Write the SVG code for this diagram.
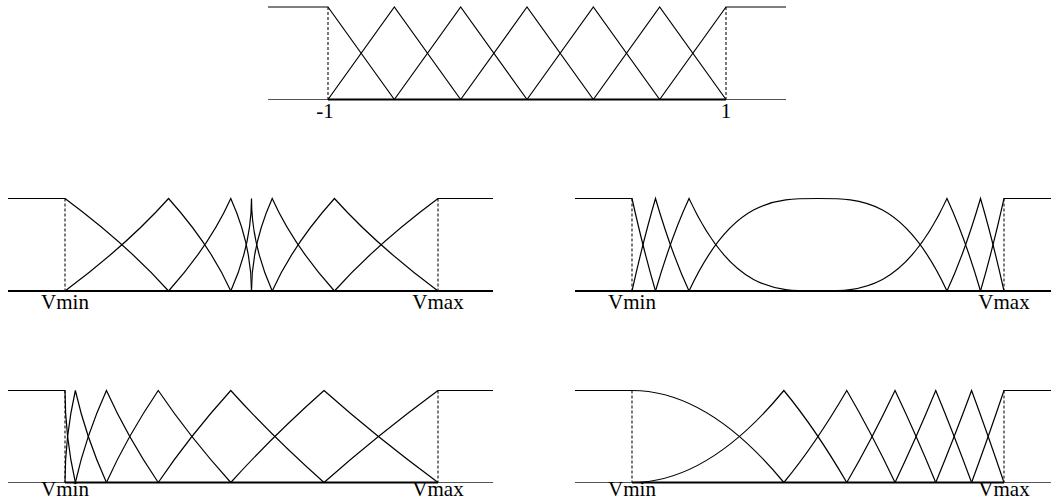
<svg xmlns="http://www.w3.org/2000/svg" width="1052" height="501" viewBox="0 0 1052 501">
<style>
.mf{fill:none;stroke:#000;stroke-width:1.2}
.ax{fill:none;stroke:#555;stroke-width:1.2}
.axb{fill:none;stroke:#000;stroke-width:2}
.dash{fill:none;stroke:#222;stroke-width:1.2;stroke-dasharray:3,2}
.lbl{font-family:"Liberation Serif","Times New Roman",serif;font-size:21px;fill:#000;text-anchor:middle}
</style>
<rect width="1052" height="501" fill="#fff"/>
<g id="plot-top">
<line class="ax" x1="268" y1="99.5" x2="786" y2="99.5"/>
<line class="axb" x1="328" y1="99.5" x2="726" y2="99.5"/>
<line class="dash" x1="328" y1="7" x2="328" y2="99.5"/>
<line class="dash" x1="726" y1="7" x2="726" y2="99.5"/>
<path class="mf" d="M268 7H328L394.33 99.5"/>
<path class="mf" d="M328 99.5L394.33 7L460.67 99.5"/>
<path class="mf" d="M394.33 99.5L460.67 7L527 99.5"/>
<path class="mf" d="M460.67 99.5L527 7L593.33 99.5"/>
<path class="mf" d="M527 99.5L593.33 7L659.67 99.5"/>
<path class="mf" d="M593.33 99.5L659.67 7L726 99.5"/>
<path class="mf" d="M659.67 99.5L726 7H786"/>
<text class="lbl" x="325" y="117.5">-1</text>
<text class="lbl" x="726" y="117.5">1</text>
</g>
<g id="plot-mid-left">
<line class="axb" x1="8" y1="291" x2="493" y2="291"/>
<line class="dash" x1="65" y1="198.5" x2="65" y2="291"/>
<line class="dash" x1="438" y1="198.5" x2="438" y2="291"/>
<path class="mf" d="M8 198.5H65Q127.17 244.75 168.56 291"/>
<path class="mf" d="M65 291Q127.17 244.75 168.56 198.5Q210 244.75 230.78 291"/>
<path class="mf" d="M168.56 291Q210 244.75 230.78 198.5Q251.5 244.75 251.5 291"/>
<path class="mf" d="M230.78 291Q251.5 244.75 251.5 198.5Q251.5 244.75 272.22 291"/>
<path class="mf" d="M251.5 291Q251.5 244.75 272.22 198.5Q292.94 244.75 334.44 291"/>
<path class="mf" d="M272.22 291Q292.94 244.75 334.44 198.5Q375.89 244.75 438 291"/>
<path class="mf" d="M334.44 291Q375.89 244.75 438 198.5H493"/>
<text class="lbl" x="65" y="309">Vmin</text>
<text class="lbl" x="438" y="309">Vmax</text>
</g>
<g id="plot-mid-right">
<line class="axb" x1="575" y1="291" x2="1051" y2="291"/>
<line class="dash" x1="632" y1="198.5" x2="632" y2="291"/>
<line class="dash" x1="1004" y1="198.5" x2="1004" y2="291"/>
<path class="mf" d="M575 198.5H632C639.83 233.56 647.67 264.24 655.5 291"/>
<path class="mf" d="M632 291C639.83 255.94 647.67 225.26 655.5 198.5C666.68 236.68 677.85 266.95 689.03 291"/>
<path class="mf" d="M655.5 291C666.68 252.82 677.85 222.55 689.03 198.5C732.02 291 775.01 291 818 291"/>
<path class="mf" d="M689.03 291C732.02 198.5 775.01 198.5 818 198.5C860.99 198.5 903.98 198.5 946.97 291"/>
<path class="mf" d="M818 291C860.99 291 903.98 291 946.97 198.5C958.15 222.55 969.32 252.82 980.5 291"/>
<path class="mf" d="M946.97 291C958.15 266.95 969.32 236.68 980.5 198.5C988.33 225.26 996.17 255.94 1004 291"/>
<path class="mf" d="M980.5 291C988.33 264.24 996.17 233.56 1004 198.5H1051"/>
<text class="lbl" x="632" y="309">Vmin</text>
<text class="lbl" x="1004" y="309">Vmax</text>
</g>
<g id="plot-bot-left">
<line class="ax" x1="8" y1="482.5" x2="493" y2="482.5"/>
<line class="axb" x1="65" y1="482.5" x2="438" y2="482.5"/>
<line class="dash" x1="65" y1="390.5" x2="65" y2="482.5"/>
<line class="dash" x1="438" y1="390.5" x2="438" y2="482.5"/>
<path class="mf" d="M8 390.5H65Q65 436.5 75.36 482.5"/>
<path class="mf" d="M65 482.5Q65 436.5 75.36 390.5Q85.72 436.5 106.44 482.5"/>
<path class="mf" d="M75.36 482.5Q85.72 436.5 106.44 390.5Q127.16 436.5 158.25 482.5"/>
<path class="mf" d="M106.44 482.5Q127.16 436.5 158.25 390.5Q189.33 436.5 230.78 482.5"/>
<path class="mf" d="M158.25 482.5Q189.33 436.5 230.78 390.5Q272.22 436.5 324.03 482.5"/>
<path class="mf" d="M230.78 482.5Q272.22 436.5 324.03 390.5Q375.84 436.5 438 482.5"/>
<path class="mf" d="M324.03 482.5Q375.84 436.5 438 390.5H493"/>
<text class="lbl" x="65" y="496">Vmin</text>
<text class="lbl" x="438" y="496">Vmax</text>
</g>
<g id="plot-bot-right">
<line class="ax" x1="575" y1="482.5" x2="1051" y2="482.5"/>
<line class="axb" x1="632" y1="482.5" x2="1004" y2="482.5"/>
<line class="dash" x1="632" y1="390.5" x2="632" y2="482.5"/>
<line class="dash" x1="1004" y1="390.5" x2="1004" y2="482.5"/>
<path class="mf" d="M575 390.5H632Q707.94 390.5 783.87 482.5"/>
<path class="mf" d="M632 482.5Q707.94 482.5 783.87 390.5Q815.32 428.6 846.77 482.5"/>
<path class="mf" d="M783.87 482.5Q815.32 444.4 846.77 390.5Q870.9 431.85 895.04 482.5"/>
<path class="mf" d="M846.77 482.5Q870.9 441.15 895.04 390.5Q915.39 433.2 935.74 482.5"/>
<path class="mf" d="M895.04 482.5Q915.39 439.8 935.74 390.5Q953.67 433.94 971.59 482.5"/>
<path class="mf" d="M935.74 482.5Q953.67 439.06 971.59 390.5Q987.8 434.4 1004 482.5"/>
<path class="mf" d="M971.59 482.5Q987.8 438.6 1004 390.5H1051"/>
<text class="lbl" x="632" y="496">Vmin</text>
<text class="lbl" x="1004" y="496">Vmax</text>
</g>
</svg>
